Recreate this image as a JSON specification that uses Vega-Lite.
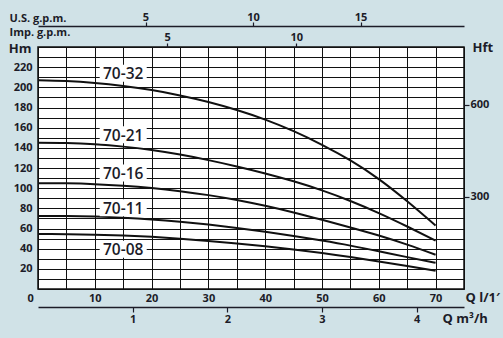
{
  "$schema": "https://vega.github.io/schema/vega-lite/v6.json",
  "width": 426,
  "height": 242,
  "autosize": {"type": "none"},
  "padding": {"left": 38, "top": 47, "right": 39, "bottom": 49},
  "background": "#d0e2e7",
  "config": {
    "view": {"fill": "#ffffff", "stroke": "#111111", "strokeWidth": 1.5},
    "axis": {
      "labelFont": "Open Sans", "labelFontWeight": "bold", "labelFontSize": 11, "labelColor": "#1c1c28",
      "titleFont": "Open Sans", "titleFontWeight": "bold", "titleFontSize": 12, "titleColor": "#1c1c28",
      "tickColor": "#1c1c28", "domainColor": "#1c1c28", "gridColor": "#111111", "gridWidth": 1, "gridOpacity": 1
    }
  },
  "datasets": {
    "curves": [
      {"model": "70-32", "Q": 0, "H": 207}, {"model": "70-32", "Q": 5, "H": 206.2}, {"model": "70-32", "Q": 10, "H": 204.3},
      {"model": "70-32", "Q": 15, "H": 201.3}, {"model": "70-32", "Q": 20, "H": 197.3}, {"model": "70-32", "Q": 25, "H": 192},
      {"model": "70-32", "Q": 30, "H": 185.5}, {"model": "70-32", "Q": 35, "H": 177.5}, {"model": "70-32", "Q": 40, "H": 168},
      {"model": "70-32", "Q": 45, "H": 156.5}, {"model": "70-32", "Q": 50, "H": 143}, {"model": "70-32", "Q": 55, "H": 127.5},
      {"model": "70-32", "Q": 60, "H": 109}, {"model": "70-32", "Q": 65, "H": 87}, {"model": "70-32", "Q": 70, "H": 63},
      {"model": "70-21", "Q": 0, "H": 145}, {"model": "70-21", "Q": 5, "H": 144.7}, {"model": "70-21", "Q": 10, "H": 143.5},
      {"model": "70-21", "Q": 15, "H": 141.2}, {"model": "70-21", "Q": 20, "H": 137.8}, {"model": "70-21", "Q": 25, "H": 133.3},
      {"model": "70-21", "Q": 30, "H": 127.8}, {"model": "70-21", "Q": 35, "H": 121.5}, {"model": "70-21", "Q": 40, "H": 114.6},
      {"model": "70-21", "Q": 45, "H": 106.8}, {"model": "70-21", "Q": 50, "H": 97.8}, {"model": "70-21", "Q": 55, "H": 87.3},
      {"model": "70-21", "Q": 60, "H": 75.3}, {"model": "70-21", "Q": 65, "H": 62}, {"model": "70-21", "Q": 70, "H": 48},
      {"model": "70-16", "Q": 0, "H": 105}, {"model": "70-16", "Q": 5, "H": 104.8}, {"model": "70-16", "Q": 10, "H": 104},
      {"model": "70-16", "Q": 15, "H": 102.4}, {"model": "70-16", "Q": 20, "H": 100.1}, {"model": "70-16", "Q": 25, "H": 97},
      {"model": "70-16", "Q": 30, "H": 93.1}, {"model": "70-16", "Q": 35, "H": 88.3}, {"model": "70-16", "Q": 40, "H": 82.5},
      {"model": "70-16", "Q": 45, "H": 75.9}, {"model": "70-16", "Q": 50, "H": 68.6}, {"model": "70-16", "Q": 55, "H": 61},
      {"model": "70-16", "Q": 60, "H": 53}, {"model": "70-16", "Q": 65, "H": 44}, {"model": "70-16", "Q": 70, "H": 34},
      {"model": "70-11", "Q": 0, "H": 72.5}, {"model": "70-11", "Q": 5, "H": 72.4}, {"model": "70-11", "Q": 10, "H": 71.8},
      {"model": "70-11", "Q": 15, "H": 70.7}, {"model": "70-11", "Q": 20, "H": 69}, {"model": "70-11", "Q": 25, "H": 66.7},
      {"model": "70-11", "Q": 30, "H": 63.9}, {"model": "70-11", "Q": 35, "H": 60.6}, {"model": "70-11", "Q": 40, "H": 56.8},
      {"model": "70-11", "Q": 45, "H": 52.6}, {"model": "70-11", "Q": 50, "H": 48}, {"model": "70-11", "Q": 55, "H": 43},
      {"model": "70-11", "Q": 60, "H": 37.4}, {"model": "70-11", "Q": 65, "H": 31.6}, {"model": "70-11", "Q": 70, "H": 26},
      {"model": "70-08", "Q": 0, "H": 54.5}, {"model": "70-08", "Q": 5, "H": 54.4}, {"model": "70-08", "Q": 10, "H": 53.9},
      {"model": "70-08", "Q": 15, "H": 53}, {"model": "70-08", "Q": 20, "H": 51.7}, {"model": "70-08", "Q": 25, "H": 49.9},
      {"model": "70-08", "Q": 30, "H": 47.7}, {"model": "70-08", "Q": 35, "H": 45.2}, {"model": "70-08", "Q": 40, "H": 42.4},
      {"model": "70-08", "Q": 45, "H": 39.2}, {"model": "70-08", "Q": 50, "H": 35.7}, {"model": "70-08", "Q": 55, "H": 31.7},
      {"model": "70-08", "Q": 60, "H": 27.3}, {"model": "70-08", "Q": 65, "H": 22.7}, {"model": "70-08", "Q": 70, "H": 18}
    ],
    "labels": [
      {"model": "70-32", "Q": 15, "H": 214},
      {"model": "70-21", "Q": 15, "H": 153},
      {"model": "70-16", "Q": 15, "H": 115},
      {"model": "70-11", "Q": 15, "H": 80.5},
      {"model": "70-08", "Q": 15, "H": 39.5}
    ],
    "hft": [{"ft": 300}, {"ft": 600}],
    "imp": [{"g": 5}, {"g": 10}],
    "us": [{"g": 5}, {"g": 10}, {"g": 15}],
    "m3": [{"m": 1}, {"m": 2}, {"m": 3}, {"m": 4}]
  },
  "layer": [
    {
      "data": {"name": "curves"},
      "mark": {"type": "line", "interpolate": "natural", "color": "#111111", "strokeWidth": 2},
      "encoding": {
        "detail": {"field": "model"},
        "x": {
          "field": "Q", "type": "quantitative",
          "scale": {"domain": [0, 75], "nice": false, "zero": false},
          "axis": {
            "orient": "bottom",
            "values": [0, 5, 10, 15, 20, 25, 30, 35, 40, 45, 50, 55, 60, 65, 70, 75],
            "labelExpr": "datum.value % 10 == 0 && datum.value < 75 ? datum.label : ''",
            "labelOffset": {"condition": {"test": "datum.value == 0", "value": -11}, "value": 0},
            "grid": true, "domain": false, "ticks": false, "labelPadding": 3,
            "title": "Q l/1′", "titleX": 427, "titleY": 8, "titleAlign": "left", "titleBaseline": "middle", "titleFontSize": 13
          }
        },
        "y": {
          "field": "H", "type": "quantitative",
          "scale": {"domain": [0, 240], "nice": false},
          "axis": {
            "orient": "left",
            "values": [0, 10, 20, 30, 40, 50, 60, 70, 80, 90, 100, 110, 120, 130, 140, 150, 160, 170, 180, 190, 200, 210, 220, 230, 240],
            "labelExpr": "datum.value % 20 == 0 && datum.value > 0 && datum.value < 240 ? datum.label : ''",
            "grid": true, "domain": false, "ticks": false, "labelPadding": 6,
            "title": "Hm", "titleAngle": 0, "titleX": -7, "titleY": 1, "titleAlign": "right", "titleBaseline": "middle", "titleFontSize": 13
          }
        }
      }
    },
    {
      "data": {"name": "labels"},
      "mark": {"type": "point", "shape": "M-1,-0.36L1,-0.36L1,0.36L-1,0.36Z", "filled": true, "color": "#ffffff", "opacity": 1, "size": 2209},
      "encoding": {
        "x": {"field": "Q", "type": "quantitative", "scale": {"domain": [0, 75], "nice": false, "zero": false}, "axis": null},
        "y": {"field": "H", "type": "quantitative", "scale": {"domain": [0, 240], "nice": false}, "axis": null}
      }
    },
    {
      "data": {"name": "labels"},
      "mark": {"type": "text", "font": "Open Sans", "fontWeight": 600, "fontSize": 15.5, "color": "#1c1c28", "baseline": "middle", "align": "center", "dy": 1},
      "encoding": {
        "text": {"field": "model"},
        "x": {"field": "Q", "type": "quantitative", "scale": {"domain": [0, 75], "nice": false, "zero": false}, "axis": null},
        "y": {"field": "H", "type": "quantitative", "scale": {"domain": [0, 240], "nice": false}, "axis": null}
      }
    },
    {
      "data": {"name": "hft"},
      "mark": {"type": "rule", "strokeOpacity": 0},
      "encoding": {
        "y": {
          "field": "ft", "type": "quantitative",
          "scale": {"domain": [0, 787.4], "nice": false},
          "axis": {
            "orient": "right", "values": [300, 600], "grid": false, "domain": false, "ticks": true, "tickSize": 5, "tickWidth": 1.2,
            "labelPadding": 1,
            "title": "Hft", "titleAngle": 0, "titleX": 8, "titleY": 0, "titleAlign": "left", "titleBaseline": "middle", "titleFontSize": 13
          }
        }
      }
    },
    {
      "data": {"name": "imp"},
      "mark": {"type": "rule", "strokeOpacity": 0},
      "encoding": {
        "x": {
          "field": "g", "type": "quantitative",
          "scale": {"domain": [0, 16.498], "nice": false, "zero": false},
          "axis": {
            "orient": "top", "values": [5, 10], "grid": false, "domain": false, "ticks": true, "tickSize": 4, "tickWidth": 1.2,
            "labelPadding": 1,
            "title": "Imp. g.p.m.", "titleX": -29, "titleY": -15, "titleAlign": "left", "titleBaseline": "middle", "titleFontSize": 11
          }
        }
      }
    },
    {
      "data": {"name": "us"},
      "mark": {"type": "rule", "strokeOpacity": 0},
      "encoding": {
        "x": {
          "field": "g", "type": "quantitative",
          "scale": {"domain": [0, 19.813], "nice": false, "zero": false},
          "axis": {
            "orient": "top", "offset": 21, "values": [5, 10, 15], "grid": false, "domain": true, "domainWidth": 1.3, "ticks": true, "tickSize": 4, "tickWidth": 1.2,
            "labelPadding": 0,
            "title": "U.S. g.p.m.", "titleX": -29, "titleY": -7.5, "titleAlign": "left", "titleBaseline": "middle", "titleFontSize": 11
          }
        }
      }
    },
    {
      "data": {"name": "m3"},
      "mark": {"type": "rule", "strokeOpacity": 0},
      "encoding": {
        "x": {
          "field": "m", "type": "quantitative",
          "scale": {"domain": [0, 4.5], "nice": false, "zero": false},
          "axis": {
            "orient": "bottom", "offset": 18, "values": [1, 2, 3, 4], "grid": false, "domain": true, "domainWidth": 1.3, "ticks": true, "tickSize": 5, "tickWidth": 1.2,
            "labelPadding": 1,
            "title": "Q m³/h", "titleX": 404, "titleY": 11, "titleAlign": "left", "titleBaseline": "middle", "titleFontSize": 13
          }
        }
      }
    }
  ],
  "resolve": {"scale": {"x": "independent", "y": "independent"}}
}
